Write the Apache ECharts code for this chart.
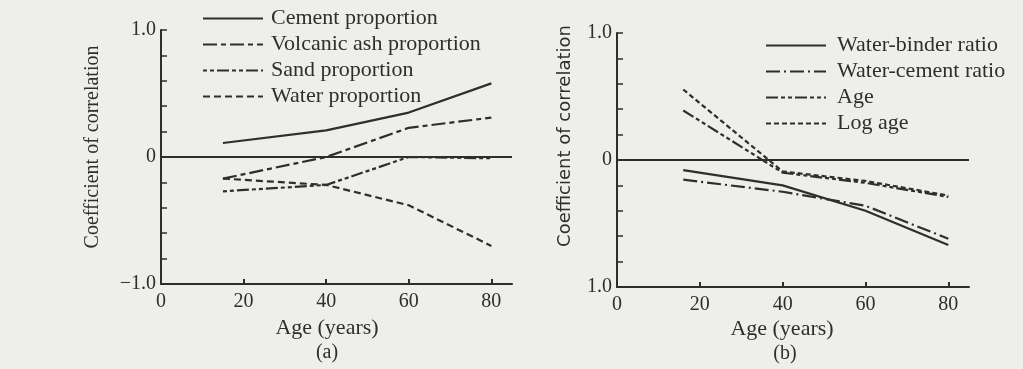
<!DOCTYPE html>
<html>
<head>
<meta charset="utf-8">
<script src="https://cdn.jsdelivr.net/npm/echarts@6/dist/echarts.min.js"></script>
<style>
html,body{margin:0;padding:0;background:#eeeeeb;}
#chart{width:1023px;height:369px;}
</style>
</head>
<body>
<div id="chart"></div>
<script>
// ---------- data ----------
const agesA = [15, 40, 60, 80];
const cementProportion = [0.11, 0.21, 0.35, 0.58];
const volcanicAshProportion = [-0.17, 0.0, 0.23, 0.31];
const sandProportion = [-0.27, -0.22, 0.0, -0.01];
const waterProportion = [-0.17, -0.22, -0.38, -0.70];

const agesB = [16, 40, 60, 80];
const waterBinderRatio = [-0.08, -0.20, -0.40, -0.67];
const waterCementRatio = [-0.155, -0.25, -0.36, -0.62];
const ageSeries = [0.39, -0.10, -0.18, -0.29];
const logAge = [0.555, -0.09, -0.165, -0.28];

const namesA = ['Cement proportion', 'Volcanic ash proportion', 'Sand proportion', 'Water proportion'];
const namesB = ['Water-binder ratio', 'Water-cement ratio', 'Age', 'Log age'];

const xTickLabels = [0, 20, 40, 60, 80];
const xTickMarks = [20, 40, 60, 80];
const yLabelValues = [-1, 0, 1];
const yLabelTextA = ['\u22121.0', '0', '1.0'];
const yLabelTextB = ['1.0', '0', '1.0'];

// ---------- styles ----------
const INK = '#2e2e2e';
const SERIF = "'Liberation Serif', 'Times New Roman', serif";
const SANS = "'DejaVu Sans', sans-serif";

function pairs(xs, ys) { return xs.map((x, i) => [x, ys[i]]); }

function yFormatter(texts) {
  return function (v) {
    for (let i = 0; i < yLabelValues.length; i++) {
      if (Math.abs(v - yLabelValues[i]) < 1e-6) return texts[i];
    }
    return '';
  };
}

function xAxisCfg(idx) {
  return {
    type: 'value', gridIndex: idx, min: 0, max: 85, interval: 20,
    axisLine: { show: true, onZero: false, lineStyle: { color: INK, width: 2 } },
    axisTick: { show: true, inside: true, length: 5, customValues: xTickMarks, lineStyle: { color: INK, width: 2 } },
    axisLabel: { customValues: xTickLabels, color: INK, fontFamily: SERIF, fontSize: 20, margin: 8 },
    splitLine: { show: false }
  };
}
function yAxisCfg(idx, texts) {
  return {
    type: 'value', gridIndex: idx, min: -1, max: 1, interval: 0.2,
    axisLine: { show: true, onZero: false, lineStyle: { color: INK, width: 2 } },
    axisTick: { show: true, inside: true, length: 6, lineStyle: { color: INK, width: 1.5 } },
    axisLabel: { customValues: yLabelValues, formatter: yFormatter(texts), color: INK, fontFamily: SERIF, fontSize: 20, margin: 5 },
    splitLine: { show: false }
  };
}

function lineSeries(name, xi, xs, ys, dash, withZero) {
  const s = {
    name: name, type: 'line', xAxisIndex: xi, yAxisIndex: xi,
    data: pairs(xs, ys), symbol: 'none', showSymbol: false, smooth: false, silent: true,
    lineStyle: { color: INK, width: 2.2, type: dash },
    itemStyle: { color: INK }
  };
  if (withZero) {
    s.markLine = {
      silent: true, symbol: ['none', 'none'], label: { show: false },
      lineStyle: { color: INK, width: 2, type: 'solid' },
      data: [{ yAxis: 0 }], animation: false
    };
  }
  return s;
}

const legendCommon = {
  orient: 'vertical', itemWidth: 60, itemHeight: 14, selectedMode: false,
  itemStyle: { opacity: 0, borderWidth: 0 }
};

const chart = echarts.init(document.getElementById('chart'), null, { renderer: 'canvas' });
chart.setOption({
  backgroundColor: '#eeeeeb',
  animation: false,
  grid: [
    { left: 161, top: 30, width: 351, height: 254 },
    { left: 617, top: 33, width: 352, height: 254 }
  ],
  xAxis: [xAxisCfg(0), xAxisCfg(1)],
  yAxis: [yAxisCfg(0, yLabelTextA), yAxisCfg(1, yLabelTextB)],
  legend: [
    Object.assign({}, legendCommon, {
      data: namesA, left: 197, top: 2, itemGap: 3,
      textStyle: { color: INK, fontFamily: SERIF, fontSize: 22, lineHeight: 23, padding: [0, 0, 0, 3] }
    }),
    Object.assign({}, legendCommon, {
      data: namesB, left: 760, top: 29, itemGap: 3,
      textStyle: { color: INK, fontFamily: SERIF, fontSize: 22, lineHeight: 23, padding: [0, 0, 0, 6] }
    })
  ],
  series: [
    lineSeries(namesA[0], 0, agesA, cementProportion, 'solid', true),
    lineSeries(namesA[1], 0, agesA, volcanicAshProportion, [14, 4, 5, 4], false),
    lineSeries(namesA[2], 0, agesA, sandProportion, [4, 3, 4, 3, 12, 3], false),
    lineSeries(namesA[3], 0, agesA, waterProportion, [7, 4], false),
    lineSeries(namesB[0], 1, agesB, waterBinderRatio, 'solid', true),
    lineSeries(namesB[1], 1, agesB, waterCementRatio, [14, 4, 2, 4], false),
    lineSeries(namesB[2], 1, agesB, ageSeries, [12, 3, 4, 3, 4, 3], false),
    lineSeries(namesB[3], 1, agesB, logAge, [5, 3], false)
  ],
  graphic: [
    { type: 'text', x: 93, y: 147, rotation: Math.PI / 2,
      style: { text: 'Coefficient of correlation', fill: INK, font: '20px ' + SERIF, align: 'center', verticalAlign: 'middle' } },
    { type: 'text', x: 565, y: 136, rotation: Math.PI / 2,
      style: { text: 'Coefficient of correlation', fill: INK, font: '18px ' + SANS, align: 'center', verticalAlign: 'middle' } },
    { type: 'text', x: 327, y: 328,
      style: { text: 'Age (years)', fill: INK, font: '22px ' + SERIF, align: 'center', verticalAlign: 'middle' } },
    { type: 'text', x: 782, y: 329,
      style: { text: 'Age (years)', fill: INK, font: '22px ' + SERIF, align: 'center', verticalAlign: 'middle' } },
    { type: 'text', x: 327, y: 353,
      style: { text: '(a)', fill: INK, font: '20px ' + SERIF, align: 'center', verticalAlign: 'middle' } },
    { type: 'text', x: 785, y: 354,
      style: { text: '(b)', fill: INK, font: '20px ' + SERIF, align: 'center', verticalAlign: 'middle' } }
  ]
});
</script>
</body>
</html>
